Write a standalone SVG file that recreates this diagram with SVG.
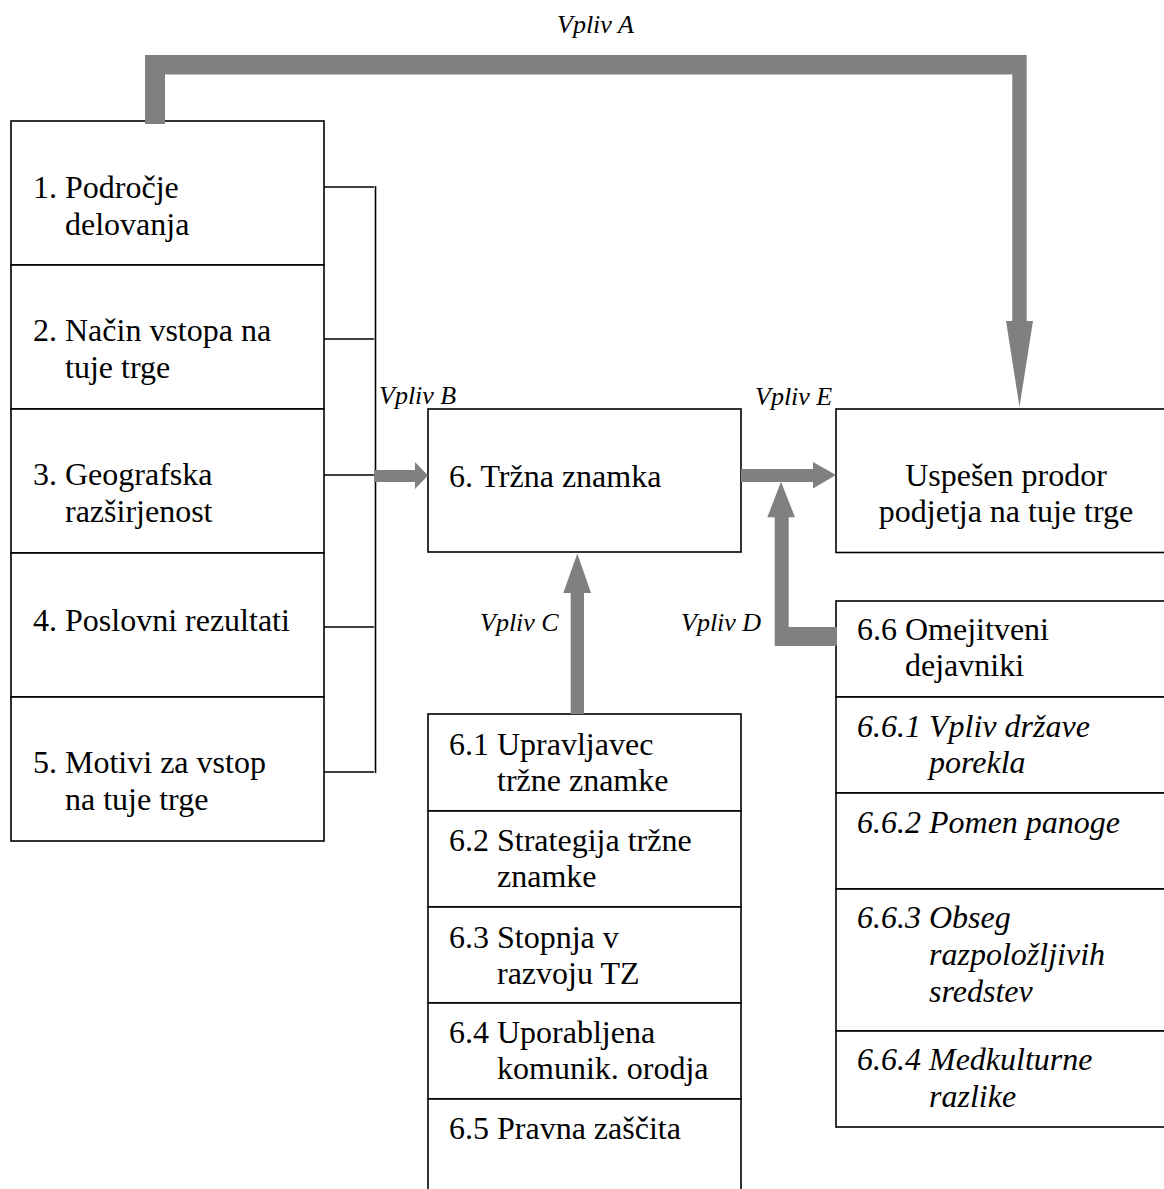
<svg xmlns="http://www.w3.org/2000/svg" width="1164" height="1189" viewBox="0 0 1164 1189">
<style>
.box{fill:#fff;stroke:#000;stroke-width:1.6}
.t{font-family:"Liberation Serif","Times New Roman",serif;font-size:32px;fill:#000}
.ti{font-family:"Liberation Serif","Times New Roman",serif;font-size:32px;font-style:italic;fill:#000}
.lbl{font-family:"Liberation Serif","Times New Roman",serif;font-size:26px;font-style:italic;fill:#000}
.arr{fill:#808080;stroke:none}
.br{stroke:#000;stroke-width:1.6;fill:none}
</style>
<rect width="1164" height="1189" fill="#fff"/>

<g id="n1"><rect class="box" x="11" y="121" width="313" height="144"/>
<text class="t"><tspan x="33" y="198">1. Področje</tspan><tspan x="65" y="235">delovanja</tspan></text></g>
<g id="n2"><rect class="box" x="11" y="265" width="313" height="144"/>
<text class="t"><tspan x="33" y="341">2. Način vstopa na</tspan><tspan x="65" y="378">tuje trge</tspan></text></g>
<g id="n3"><rect class="box" x="11" y="409" width="313" height="144"/>
<text class="t"><tspan x="33" y="485">3. Geografska</tspan><tspan x="65" y="522">razširjenost</tspan></text></g>
<g id="n4"><rect class="box" x="11" y="553" width="313" height="144"/>
<text class="t" x="33" y="631">4. Poslovni rezultati</text></g>
<g id="n5"><rect class="box" x="11" y="697" width="313" height="144"/>
<text class="t"><tspan x="33" y="773">5. Motivi za vstop</tspan><tspan x="65" y="810">na tuje trge</tspan></text></g>

<g id="n6"><rect class="box" x="428" y="409" width="313" height="143"/>
<text class="t" x="449" y="487">6. Tržna znamka</text></g>

<g id="success"><rect class="box" x="836" y="409" width="340" height="143.5"/>
<text class="t" text-anchor="middle"><tspan x="1006" y="486">Uspešen prodor</tspan><tspan x="1006" y="522">podjetja na tuje trge</tspan></text></g>

<g id="n61"><rect class="box" x="428" y="714" width="313" height="97"/>
<text class="t"><tspan x="449" y="755">6.1 Upravljavec</tspan><tspan x="497" y="791">tržne znamke</tspan></text></g>
<g id="n62"><rect class="box" x="428" y="811" width="313" height="96"/>
<text class="t"><tspan x="449" y="851">6.2 Strategija tržne</tspan><tspan x="497" y="887">znamke</tspan></text></g>
<g id="n63"><rect class="box" x="428" y="907" width="313" height="96"/>
<text class="t"><tspan x="449" y="948">6.3 Stopnja v</tspan><tspan x="497" y="984">razvoju TZ</tspan></text></g>
<g id="n64"><rect class="box" x="428" y="1003" width="313" height="96"/>
<text class="t"><tspan x="449" y="1043">6.4 Uporabljena</tspan><tspan x="497" y="1079">komunik. orodja</tspan></text></g>
<g id="n65"><rect class="box" x="428" y="1099" width="313" height="110"/>
<text class="t" x="449" y="1139">6.5 Pravna zaščita</text></g>

<g id="n66"><rect class="box" x="836" y="601" width="340" height="96"/>
<text class="t"><tspan x="857" y="640">6.6 Omejitveni</tspan><tspan x="905" y="676">dejavniki</tspan></text></g>
<g id="n661"><rect class="box" x="836" y="697" width="340" height="96"/>
<text class="ti"><tspan x="857" y="737">6.6.1 Vpliv države</tspan><tspan x="929" y="773">porekla</tspan></text></g>
<g id="n662"><rect class="box" x="836" y="793" width="340" height="96"/>
<text class="ti" x="857" y="833">6.6.2 Pomen panoge</text></g>
<g id="n663"><rect class="box" x="836" y="889" width="340" height="142"/>
<text class="ti"><tspan x="857" y="928">6.6.3 Obseg</tspan><tspan x="929" y="965">razpoložljivih</tspan><tspan x="929" y="1002">sredstev</tspan></text></g>
<g id="n664"><rect class="box" x="836" y="1031" width="340" height="96"/>
<text class="ti"><tspan x="857" y="1070">6.6.4 Medkulturne</tspan><tspan x="929" y="1107">razlike</tspan></text></g>

<g id="connectors">
<path class="br" d="M324 187H374M324 339H374M324 475H374M324 627H374M324 772H374M375.5 186V773"/>
<polygon class="arr" points="145,124 145,55 1026.7,55 1026.7,321 1033,321 1019.5,407 1006,321 1012.3,321 1012.3,74.5 165,74.5 165,124"/>
<polygon class="arr" points="374,470 415,470 415,462 428,475.5 415,489 415,482 374,482"/>
<polygon class="arr" points="741,469 813,469 813,462 836,475 813,488.5 813,482 741,482"/>
<polygon class="arr" points="570.7,714 570.7,593 563.3,593 577.3,553.5 591,593 584,593 584,714"/>
<polygon class="arr" points="837,627 837,646 774.7,646 774.7,517.3 767.3,517.3 781,481.7 795,517.3 788.7,517.3 788.7,627"/>
<text class="lbl" x="557" y="33">Vpliv A</text>
<text class="lbl" x="379" y="404">Vpliv B</text>
<text class="lbl" x="480" y="631">Vpliv C</text>
<text class="lbl" x="681" y="631">Vpliv D</text>
<text class="lbl" x="755" y="405">Vpliv E</text>
</g>
</svg>
